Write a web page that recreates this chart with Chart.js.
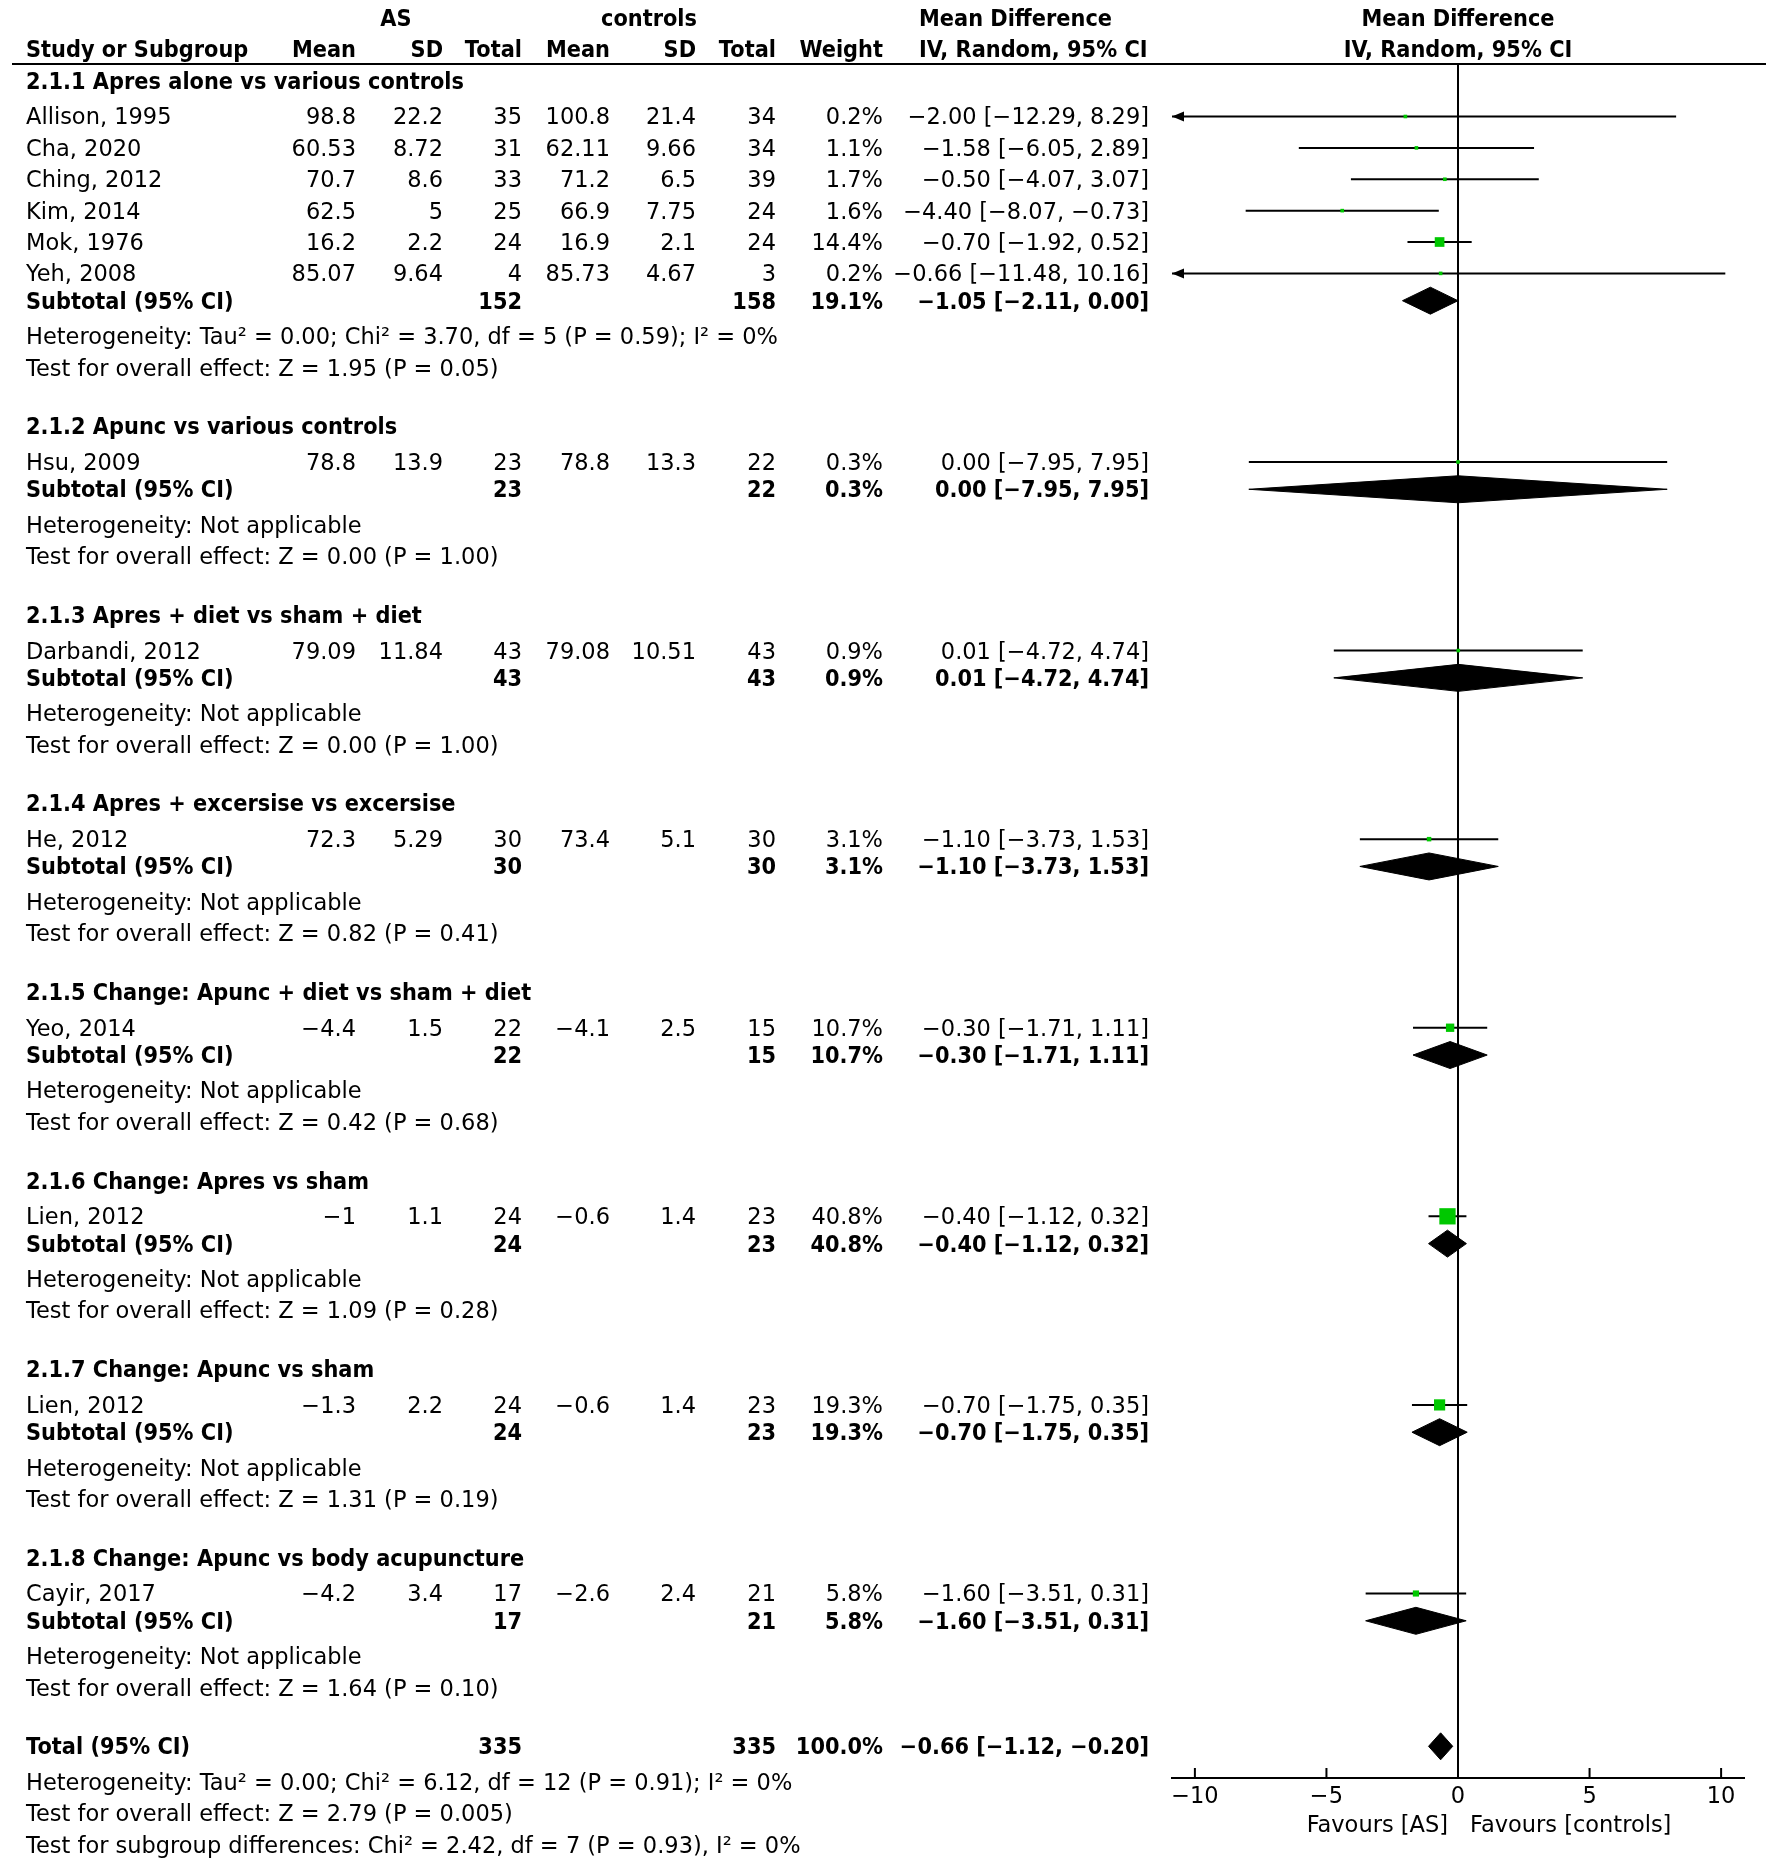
<!DOCTYPE html>
<html><head><meta charset="utf-8">
<script src="https://cdn.jsdelivr.net/npm/chart.js@4/dist/chart.umd.min.js"></script>
<style>html,body{margin:0;padding:0;background:#fff;}canvas{display:block;}</style>
</head><body>
<canvas id="c" width="1772" height="1863" style="width:1772px;height:1863px"></canvas>
<script>
// ---------------- DATA ----------------
const groupTitles = [
  "2.1.1 Apres alone vs various controls",
  "2.1.2 Apunc vs various controls",
  "2.1.3 Apres + diet vs sham + diet",
  "2.1.4 Apres + excersise vs excersise",
  "2.1.5 Change: Apunc + diet vs sham + diet",
  "2.1.6 Change: Apres vs sham",
  "2.1.7 Change: Apunc vs sham",
  "2.1.8 Change: Apunc vs body acupuncture"
];
const studyNames = ["Allison, 1995","Cha, 2020","Ching, 2012","Kim, 2014","Mok, 1976","Yeh, 2008","Hsu, 2009","Darbandi, 2012","He, 2012","Yeo, 2014","Lien, 2012","Lien, 2012","Cayir, 2017"];
const studyGroup = [0,0,0,0,0,0,1,2,3,4,5,6,7];
const asMean   = [98.8,60.53,70.7,62.5,16.2,85.07,78.8,79.09,72.3,-4.4,-1,-1.3,-4.2];
const asSD     = [22.2,8.72,8.6,5,2.2,9.64,13.9,11.84,5.29,1.5,1.1,2.2,3.4];
const asTotal  = [35,31,33,25,24,4,23,43,30,22,24,24,17];
const ctrlMean = [100.8,62.11,71.2,66.9,16.9,85.73,78.8,79.08,73.4,-4.1,-0.6,-0.6,-2.6];
const ctrlSD   = [21.4,9.66,6.5,7.75,2.1,4.67,13.3,10.51,5.1,2.5,1.4,1.4,2.4];
const ctrlTotal= [34,34,39,24,24,3,22,43,30,15,23,23,21];
const weight   = [0.2,1.1,1.7,1.6,14.4,0.2,0.3,0.9,3.1,10.7,40.8,19.3,5.8];
const md       = [-2.00,-1.58,-0.50,-4.40,-0.70,-0.66,0.00,0.01,-1.10,-0.30,-0.40,-0.70,-1.60];
const ciLow    = [-12.29,-6.05,-4.07,-8.07,-1.92,-11.48,-7.95,-4.72,-3.73,-1.71,-1.12,-1.75,-3.51];
const ciHigh   = [8.29,2.89,3.07,-0.73,0.52,10.16,7.95,4.74,1.53,1.11,0.32,0.35,0.31];

const subAsTotal   = [152,23,43,30,22,24,24,17];
const subCtrlTotal = [158,22,43,30,15,23,23,21];
const subWeight    = [19.1,0.3,0.9,3.1,10.7,40.8,19.3,5.8];
const subMd        = [-1.05,0.00,0.01,-1.10,-0.30,-0.40,-0.70,-1.60];
const subLow       = [-2.11,-7.95,-4.72,-3.73,-1.71,-1.12,-1.75,-3.51];
const subHigh      = [0.00,7.95,4.74,1.53,1.11,0.32,0.35,0.31];
const subHeterogeneity = [
  "Heterogeneity: Tau\u00B2 = 0.00; Chi\u00B2 = 3.70, df = 5 (P = 0.59); I\u00B2 = 0%",
  "Heterogeneity: Not applicable","Heterogeneity: Not applicable","Heterogeneity: Not applicable",
  "Heterogeneity: Not applicable","Heterogeneity: Not applicable","Heterogeneity: Not applicable",
  "Heterogeneity: Not applicable"
];
const subEffect = [
  "Test for overall effect: Z = 1.95 (P = 0.05)",
  "Test for overall effect: Z = 0.00 (P = 1.00)",
  "Test for overall effect: Z = 0.00 (P = 1.00)",
  "Test for overall effect: Z = 0.82 (P = 0.41)",
  "Test for overall effect: Z = 0.42 (P = 0.68)",
  "Test for overall effect: Z = 1.09 (P = 0.28)",
  "Test for overall effect: Z = 1.31 (P = 0.19)",
  "Test for overall effect: Z = 1.64 (P = 0.10)"
];
const totalAs = 335, totalCtrl = 335, totalWeight = 100.0;
const totalMd = -0.66, totalLow = -1.12, totalHigh = -0.20;
const totalNotes = [
  "Heterogeneity: Tau\u00B2 = 0.00; Chi\u00B2 = 6.12, df = 12 (P = 0.91); I\u00B2 = 0%",
  "Test for overall effect: Z = 2.79 (P = 0.005)",
  "Test for subgroup differences: Chi\u00B2 = 2.42, df = 7 (P = 0.93), I\u00B2 = 0%"
];
const xTicks = [-10,-5,0,5,10];
const favourLabels = ["Favours [AS]","Favours [controls]"];

// ---------------- LAYOUT ----------------
const FONT = '"DejaVu Sans", sans-serif';
const FS = 22.5;
const BASE = 8;
const BOLD_X = 0.93;
const GREEN = 'rgb(0,200,0)';
const Y_MIN = -1.673, Y_MAX = 52.95;
const X_MIN = -10.87, X_MAX = 10.87;
const COL = {name:26, asMean:356, asSD:443, asTotal:522, cMean:610, cSD:696, cTotal:776, weight:883, ci:1149, ciHead:919};

const headerPos = [], studyPos = [], subPos = [], hetPos = [], testPos = [];
let p = -1.14;
groupTitles.forEach((t, g) => {
  headerPos[g] = p;
  p += 1.14;
  let first = true;
  studyGroup.forEach((sg, i) => {
    if (sg !== g) return;
    if (!first) p += 1;
    first = false;
    studyPos[i] = p;
  });
  p += 0.87; subPos[g] = p;
  p += 1.13; hetPos[g] = p;
  p += 1.0; testPos[g] = p;
  p += 1.87;
});
const totalPos = p;
const totalNotePos = [p + 1.13, p + 2.13, p + 3.13];
const headRow1 = -3.14, headRow2 = -2.15;

const fmtN = v => String(v).replace('-', '\u2212');
const fmt2 = v => v.toFixed(2).replace('-', '\u2212');
const fmtCI = (m, l, h) => `${fmt2(m)} [${fmt2(l)}, ${fmt2(h)}]`;
const fmtW = v => v.toFixed(1) + '%';

// ---------------- DATASETS ----------------
const datasets = [];
datasets.push({
  label: 'studies', order: 0, showLine: false,
  data: md.map((m, i) => ({x: m, y: studyPos[i]})),
  pointStyle: 'rect',
  pointRadius: weight.map(w => Math.max(3.6, 2.55 * Math.sqrt(w)) / Math.SQRT2),
  backgroundColor: GREEN, borderColor: GREEN, borderWidth: 0
});
const DH = 0.43;
const diamond = (m, l, h, y) => [{x:l,y:y},{x:m,y:y-DH},{x:h,y:y},{x:m,y:y+DH},{x:l,y:y}];
subMd.forEach((m, g) => {
  datasets.push({label:'sub'+g, order:0, data: diamond(m, subLow[g], subHigh[g], subPos[g]),
    showLine:true, fill:'shape', backgroundColor:'#000', borderColor:'#000', borderWidth:1, pointRadius:0, tension:0});
});
datasets.push({label:'total', order:0, data: diamond(totalMd, totalLow, totalHigh, totalPos),
  showLine:true, fill:'shape', backgroundColor:'#000', borderColor:'#000', borderWidth:1, pointRadius:0, tension:0});
md.forEach((m, i) => {
  datasets.push({label:'ci'+i, order:1, data:[{x:ciLow[i],y:studyPos[i]},{x:ciHigh[i],y:studyPos[i]}],
    showLine:true, borderColor:'#000', borderWidth:2, pointRadius:0, fill:false});
});
datasets.push({label:'zero', order:2, data:[{x:0,y:Y_MIN},{x:0,y:Y_MAX}],
  showLine:true, borderColor:'#000', borderWidth:2, pointRadius:0, fill:false});

// ---------------- PLUGIN ----------------
const tablePlugin = {
  id: 'table',
  afterDraw(chart) {
    const ctx = chart.ctx, ys = chart.scales.y, xs = chart.scales.x, ca = chart.chartArea;
    const Y = v => ys.getPixelForValue(v);
    const t = (s, x, pos, align, bold) => {
      ctx.save();
      ctx.font = (bold ? 'bold ' : '') + FS + 'px ' + FONT;
      ctx.textAlign = align; ctx.textBaseline = 'alphabetic'; ctx.fillStyle = '#000';
      ctx.translate(x, Y(pos) + BASE);
      if (bold) ctx.scale(BOLD_X, 1);
      ctx.fillText(s, 0, 0);
      ctx.restore();
    };
    ctx.save();
    const zx = xs.getPixelForValue(0);
    t('AS', 396, headRow1, 'center', true);
    t('controls', 649, headRow1, 'center', true);
    t('Mean Difference', COL.ciHead, headRow1, 'left', true);
    t('Mean Difference', zx, headRow1, 'center', true);
    t('Study or Subgroup', COL.name, headRow2, 'left', true);
    t('Mean', COL.asMean, headRow2, 'right', true);
    t('SD', COL.asSD, headRow2, 'right', true);
    t('Total', COL.asTotal, headRow2, 'right', true);
    t('Mean', COL.cMean, headRow2, 'right', true);
    t('SD', COL.cSD, headRow2, 'right', true);
    t('Total', COL.cTotal, headRow2, 'right', true);
    t('Weight', COL.weight, headRow2, 'right', true);
    t('IV, Random, 95% CI', COL.ciHead, headRow2, 'left', true);
    t('IV, Random, 95% CI', zx, headRow2, 'center', true);
    ctx.strokeStyle = '#000'; ctx.lineWidth = 2;
    ctx.beginPath(); ctx.moveTo(12, ca.top); ctx.lineTo(1766, ca.top); ctx.stroke();
    groupTitles.forEach((title, g) => {
      t(title, COL.name, headerPos[g], 'left', true);
      t('Subtotal (95% CI)', COL.name, subPos[g], 'left', true);
      t(String(subAsTotal[g]), COL.asTotal, subPos[g], 'right', true);
      t(String(subCtrlTotal[g]), COL.cTotal, subPos[g], 'right', true);
      t(fmtW(subWeight[g]), COL.weight, subPos[g], 'right', true);
      t(fmtCI(subMd[g], subLow[g], subHigh[g]), COL.ci, subPos[g], 'right', true);
      t(subHeterogeneity[g], COL.name, hetPos[g], 'left', false);
      t(subEffect[g], COL.name, testPos[g], 'left', false);
    });
    studyNames.forEach((n, i) => {
      const y = studyPos[i];
      t(n, COL.name, y, 'left', false);
      t(fmtN(asMean[i]), COL.asMean, y, 'right', false);
      t(fmtN(asSD[i]), COL.asSD, y, 'right', false);
      t(String(asTotal[i]), COL.asTotal, y, 'right', false);
      t(fmtN(ctrlMean[i]), COL.cMean, y, 'right', false);
      t(fmtN(ctrlSD[i]), COL.cSD, y, 'right', false);
      t(String(ctrlTotal[i]), COL.cTotal, y, 'right', false);
      t(fmtW(weight[i]), COL.weight, y, 'right', false);
      t(fmtCI(md[i], ciLow[i], ciHigh[i]), COL.ci, y, 'right', false);
      const py = Y(y);
      ctx.fillStyle = '#000';
      if (ciLow[i] < xs.min) {
        const x0 = xs.getPixelForValue(xs.min);
        ctx.beginPath(); ctx.moveTo(x0, py); ctx.lineTo(x0 + 12, py - 5); ctx.lineTo(x0 + 12, py + 5); ctx.closePath(); ctx.fill();
      }
      if (ciHigh[i] > xs.max) {
        const x1 = xs.getPixelForValue(xs.max);
        ctx.beginPath(); ctx.moveTo(x1, py); ctx.lineTo(x1 - 12, py - 5); ctx.lineTo(x1 - 12, py + 5); ctx.closePath(); ctx.fill();
      }
    });
    t('Total (95% CI)', COL.name, totalPos, 'left', true);
    t(String(totalAs), COL.asTotal, totalPos, 'right', true);
    t(String(totalCtrl), COL.cTotal, totalPos, 'right', true);
    t(fmtW(totalWeight), COL.weight, totalPos, 'right', true);
    t(fmtCI(totalMd, totalLow, totalHigh), COL.ci, totalPos, 'right', true);
    totalNotes.forEach((s, k) => t(s, COL.name, totalNotePos[k], 'left', false));
    // tick marks rising from the axis line
    ctx.strokeStyle = '#000'; ctx.lineWidth = 2;
    xTicks.forEach(v => {
      const x = xs.getPixelForValue(v);
      ctx.beginPath(); ctx.moveTo(x, ca.bottom - 10); ctx.lineTo(x, ca.bottom + 1); ctx.stroke();
    });
    ctx.font = FS + 'px ' + FONT; ctx.fillStyle = '#000'; ctx.textBaseline = 'alphabetic';
    ctx.textAlign = 'right'; ctx.fillText(favourLabels[0], zx - 10, ca.bottom + 54);
    ctx.textAlign = 'left'; ctx.fillText(favourLabels[1], zx + 12, ca.bottom + 54);
    ctx.restore();
  }
};

new Chart(document.getElementById('c').getContext('2d'), {
  type: 'line',
  data: { datasets },
  options: {
    responsive: false, animation: false, devicePixelRatio: 1, events: [],
    layout: { padding: { left: 1172, right: 28, top: 64, bottom: 0 } },
    plugins: { legend: {display: false}, tooltip: {enabled: false}, title: {display: false} },
    scales: {
      x: {
        type: 'linear', position: 'bottom', min: X_MIN, max: X_MAX,
        afterBuildTicks: s => { s.ticks = xTicks.map(v => ({value: v})); },
        afterFit: s => { s.height = 85; },
        grid: { drawOnChartArea: false, drawTicks: false },
        border: { display: true, color: '#000', width: 2 },
        ticks: { padding: 6, autoSkip: false, maxRotation: 0, color: '#000',
                 font: { family: FONT, size: FS }, callback: v => fmtN(v) }
      },
      y: { type: 'linear', display: false, reverse: true, min: Y_MIN, max: Y_MAX }
    }
  },
  plugins: [tablePlugin]
});
</script>
</body></html>
